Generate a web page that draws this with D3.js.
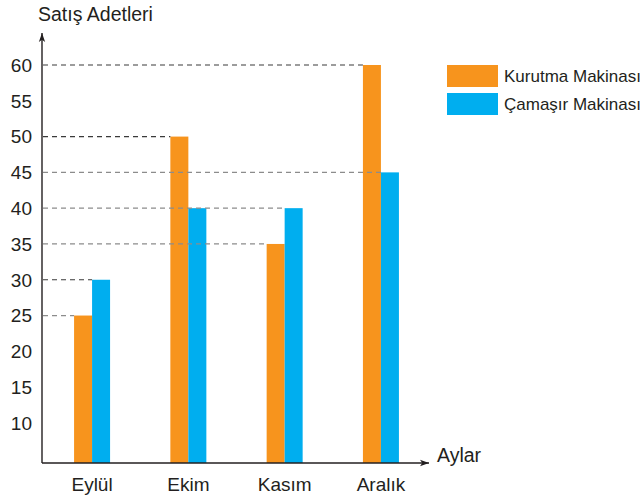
<!DOCTYPE html>
<html>
<head>
<meta charset="utf-8">
<script src="https://cdn.jsdelivr.net/npm/d3@7"></script>
<style>
  html, body { margin: 0; padding: 0; background: #fff; }
  svg { display: block; font-family: "Liberation Sans", Arial, Helvetica, sans-serif; }
</style>
</head>
<body>
<svg id="chart" width="644" height="502"></svg>
<script>
// Monthly sales of two appliance types
const months = ["Eylül", "Ekim", "Kasım", "Aralık"];
const seriesNames = ["Kurutma Makinası", "Çamaşır Makinası"];
const kurutma = [25, 50, 35, 60];
const camasir = [30, 40, 40, 45];
const yTicks = [10, 15, 20, 25, 30, 35, 40, 45, 50, 55, 60];
const yTitle = "Satış Adetleri";
const xTitle = "Aylar";

const colors = ["#F7941D", "#00AEEF"];
const axisColor = "#231F20";

const svg = d3.select("#chart");
const plotLeft = 42, plotRight = 431, plotBase = 463, plotTop = 65;

// y axis is broken: the baseline sits a little below 10
const y = d3.scaleLinear().domain([4.4, 60]).range([plotBase, plotTop]);
const x = d3.scalePoint().domain(months).range([plotLeft, plotRight]).padding(0.52);
const xs = d3.scaleBand().domain(seriesNames).range([-18, 18]);

const values = [kurutma, camasir];
const bars = [];
months.forEach((m, i) => {
  seriesNames.forEach((s, j) => {
    bars.push({ month: m, series: s, si: j, value: values[j][i], mi: i });
  });
});

// bars
svg.append("g").selectAll("rect").data(bars).join("rect")
  .attr("x", d => x(d.month) + xs(d.series))
  .attr("width", xs.bandwidth())
  .attr("y", d => y(d.value))
  .attr("height", d => plotBase - y(d.value))
  .attr("fill", d => colors[d.si]);

// dashed guide lines: each distinct value runs to the farthest bar carrying it
const guideMap = new Map();
bars.forEach(b => {
  const g = guideMap.get(b.value);
  if (!g) {
    guideMap.set(b.value, { value: b.value, bar: b, count: 1 });
  } else {
    g.count += 1;
    if (b.mi > g.bar.mi || (b.mi === g.bar.mi && b.si > g.bar.si)) g.bar = b;
  }
});
const guides = Array.from(guideMap.values()).map(g => {
  const monthMax = d3.max(values, v => v[g.bar.mi]);
  return { value: g.value, bar: g.bar, dark: g.count === 1 && g.value === monthMax };
});

svg.append("g").selectAll("line").data(guides).join("line")
  .attr("x1", plotLeft + 1)
  .attr("x2", d => x(d.bar.month) + xs(d.bar.series))
  .attr("y1", d => y(d.value))
  .attr("y2", d => y(d.value))
  .attr("stroke", d => d.dark ? "#3a3a3a" : "#8c8c8c")
  .attr("stroke-width", 1.2)
  .attr("stroke-dasharray", "5,4");

// axes with arrow heads
const defs = svg.append("defs");
defs.append("marker")
  .attr("id", "arrow")
  .attr("viewBox", "0 0 10 10")
  .attr("refX", 10).attr("refY", 5)
  .attr("markerWidth", 9).attr("markerHeight", 9)
  .attr("markerUnits", "userSpaceOnUse")
  .attr("orient", "auto")
  .append("path")
  .attr("d", "M0,1.5 L10,5 L0,8.5 L2.5,5 Z")
  .attr("fill", axisColor);

svg.append("line")
  .attr("x1", plotLeft).attr("x2", plotLeft)
  .attr("y1", plotBase).attr("y2", 33)
  .attr("stroke", axisColor).attr("stroke-width", 1.4)
  .attr("marker-end", "url(#arrow)");

svg.append("line")
  .attr("x1", plotLeft).attr("x2", 429)
  .attr("y1", plotBase).attr("y2", plotBase)
  .attr("stroke", axisColor).attr("stroke-width", 1.4)
  .attr("marker-end", "url(#arrow)");

// y tick labels
svg.append("g").selectAll("text").data(yTicks).join("text")
  .attr("x", 32)
  .attr("y", d => y(d))
  .attr("dy", "0.36em")
  .attr("text-anchor", "end")
  .attr("font-size", 19)
  .attr("fill", axisColor)
  .text(d => d);

// month labels
svg.append("g").selectAll("text").data(months).join("text")
  .attr("x", d => x(d))
  .attr("y", 491)
  .attr("text-anchor", "middle")
  .attr("font-size", 19)
  .attr("fill", axisColor)
  .text(d => d);

// axis titles
svg.append("text")
  .attr("x", 38).attr("y", 21)
  .attr("font-size", 19.5)
  .attr("fill", axisColor)
  .text(yTitle);

svg.append("text")
  .attr("x", 437).attr("y", 462)
  .attr("font-size", 19.5)
  .attr("fill", axisColor)
  .text(xTitle);

// legend
const legend = svg.append("g").selectAll("g").data(seriesNames).join("g")
  .attr("transform", (d, i) => `translate(447, ${65 + i * 28})`);
legend.append("rect")
  .attr("width", 51).attr("height", 22)
  .attr("fill", (d, i) => colors[i]);
legend.append("text")
  .attr("x", 57).attr("y", 17)
  .attr("font-size", 17)
  .attr("fill", axisColor)
  .text(d => d);
</script>
</body>
</html>
